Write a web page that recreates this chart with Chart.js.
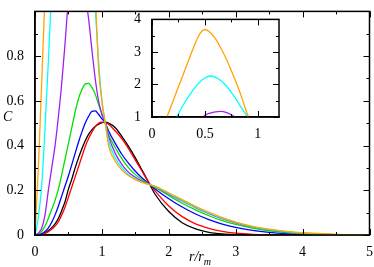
<!DOCTYPE html>
<html>
<head>
  <title>C vs r/rm</title>
  <script src="https://cdn.jsdelivr.net/npm/chart.js"></script>
  <style>
    body { margin: 0; background: #fff; }
    #wrap { position: relative; width: 374px; height: 267px; font-family: 'Liberation Serif', serif; }
    #mainChart { position: absolute; left: 0; top: 0; }
    #insetChart { position: absolute; left: 130px; top: 8px; }
    .lbl { position: absolute; font-size: 14px; font-style: italic; color: #000; white-space: nowrap; }
    .lbl sub { font-size: 10px; }
  </style>
</head>
<body>
  <div id="wrap">
    <canvas id="mainChart" width="374" height="267"></canvas>
    <canvas id="insetChart" width="155" height="130"></canvas>
    <div class="lbl" style="left:3px; top:109px;">C</div>
    <div class="lbl" style="left:189px; top:249px;">r/r<sub>m</sub></div>
  </div>

  <script>
    // r/r_m sample points shared by all curves
    const rValues = [0, 0.05, 0.1, 0.15, 0.2, 0.25, 0.3, 0.35, 0.4, 0.45, 0.5, 0.55, 0.6, 0.65, 0.7, 0.75, 0.8, 0.85, 0.9, 0.95,
                     1.0, 1.05, 1.1, 1.2, 1.3, 1.4, 1.5, 1.6, 1.7, 1.8, 2.0, 2.2, 2.4, 2.6, 2.8, 3.0, 3.25, 3.5, 3.75, 4.0, 4.5, 5.0];

    const blackC  = [0, 0, .003, .01, .02, .033, .05, .075, .11, .15, .205, .25, .3, .345, .385, .42, .45, .47, .485, .495,
                     .503, .505, .5, .48, .44, .395, .345, .29, .235, .18, .105, .055, .027, .012, .005, .002, 0, 0, 0, 0, 0, 0];
    const redC    = [0, 0, .002, .007, .015, .026, .04, .06, .09, .125, .17, .215, .26, .305, .35, .395, .43, .46, .485, .5,
                     .505, .503, .495, .465, .43, .385, .335, .285, .235, .195, .13, .082, .05, .03, .016, .008, .003, .001, 0, 0, 0, 0];
    const blueC   = [0, .001, .006, .016, .032, .057, .09, .13, .175, .22, .265, .315, .365, .415, .46, .5, .53, .553, .555, .54,
                     .52, .502, .465, .41, .36, .32, .285, .255, .23, .205, .162, .125, .094, .069, .049, .034, .021, .012, .006, .003, .001, 0];
    const greenC  = [0, .003, .015, .04, .075, .115, .155, .205, .27, .34, .41, .48, .55, .61, .65, .675, .678, .66, .63, .585,
                     .54, .502, .45, .39, .34, .3, .27, .247, .228, .212, .176, .142, .112, .086, .064, .047, .031, .019, .011, .006, .001, 0];
    const purpleC = [0, .008, .03, .09, .2, .3, .4, .53, .68, .86, 1.05, 1.12, 1.16, 1.17, 1.14, 1.07, .97, .83, .7, .6,
                     .54, .502, .44, .365, .315, .28, .258, .24, .228, .215, .183, .152, .122, .096, .073, .054, .036, .023, .014, .008, .002, 0];
    const cyanC   = [0, .08, .22, .48, .78, 1.1, 1.4, 1.65, 1.88, 2.07, 2.2, 2.26, 2.22, 2.12, 1.96, 1.76, 1.52, 1.26, 1.02, .78,
                     .6, .502, .42, .345, .3, .27, .25, .236, .227, .216, .185, .155, .125, .098, .075, .056, .037, .024, .015, .009, .002, 0];
    const orangeC = [0, .3, .68, 1.08, 1.5, 1.93, 2.35, 2.78, 3.2, 3.55, 3.69, 3.6, 3.4, 3.12, 2.8, 2.42, 2.02, 1.58, 1.1, .75,
                     .6, .502, .4, .33, .29, .265, .248, .235, .226, .217, .188, .158, .128, .101, .078, .058, .039, .026, .016, .01, .003, 0];

    const curves = [
      { values: blackC,  color: '#000000' },
      { values: redC,    color: '#ff0000' },
      { values: blueC,   color: '#0000ff' },
      { values: greenC,  color: '#00e000' },
      { values: purpleC, color: '#a020f0' },
      { values: cyanC,   color: '#00ffff' },
      { values: orangeC, color: '#ffa500' }
    ];

    function makeDatasets() {
      return curves.map((c, i) => ({
        data: rValues.map((r, k) => ({ x: r, y: c.values[k] })),
        borderColor: c.color,
        borderWidth: 1.3,
        pointRadius: 0,
        fill: false,
        cubicInterpolationMode: 'monotone',
        order: curves.length - i
      }));
    }

    // box + inward ticks, xmgrace style
    function framePlugin(xMajor, xMinor, yMajor, yMinor) {
      return {
        id: 'frame',
        afterDraw(chart) {
          const a = chart.chartArea, ctx = chart.ctx;
          const xs = chart.scales.x, ys = chart.scales.y;
          ctx.save();
          ctx.strokeStyle = '#000';
          ctx.lineWidth = 1;
          ctx.beginPath();
          const tick = (v, len, isX) => {
            if (isX) {
              const p = Math.round(xs.getPixelForValue(v)) + 0.5;
              ctx.moveTo(p, a.bottom); ctx.lineTo(p, a.bottom - len);
              ctx.moveTo(p, a.top); ctx.lineTo(p, a.top + len);
            } else {
              const p = Math.round(ys.getPixelForValue(v)) + 0.5;
              ctx.moveTo(a.left, p); ctx.lineTo(a.left + len, p);
              ctx.moveTo(a.right, p); ctx.lineTo(a.right - len, p);
            }
          };
          for (let v = xs.min; v <= xs.max + 1e-9; v += xMinor) {
            const major = Math.abs(v / xMajor - Math.round(v / xMajor)) < 1e-6;
            tick(v, major ? 6 : 3, true);
          }
          for (let v = ys.min; v <= ys.max + 1e-9; v += yMinor) {
            const major = Math.abs((v - ys.min) / yMajor - Math.round((v - ys.min) / yMajor)) < 1e-6;
            tick(v, major ? 6 : 3, false);
          }
          ctx.stroke();
          ctx.lineWidth = 1.5;
          ctx.strokeRect(a.left, a.top, a.right - a.left, a.bottom - a.top);
          ctx.restore();
        }
      };
    }

    const tickFont = { family: 'Liberation Serif', size: 14 };

    new Chart(document.getElementById('mainChart'), {
      type: 'line',
      data: { datasets: makeDatasets() },
      options: {
        responsive: false,
        animation: false,
        layout: { padding: { top: 1, right: 3 } },
        plugins: { legend: { display: false }, tooltip: { enabled: false } },
        scales: {
          x: {
            type: 'linear', min: 0, max: 5,
            grid: { display: false },
            border: { color: '#000', width: 1.5 },
            ticks: { stepSize: 1, color: '#000', font: tickFont, padding: 1, maxRotation: 0 },
            afterFit(s) { s.height = 32; }
          },
          y: {
            type: 'linear', min: 0, max: 1,
            grid: { display: false },
            border: { color: '#000', width: 1.5 },
            ticks: {
              stepSize: 0.2, color: '#000', font: tickFont, padding: 3,
              callback: v => {
                const n = Math.round(v * 10) / 10;
                if (n >= 1) return '';
                return n === 0 ? '0' : n.toFixed(1);
              }
            },
            afterFit(s) { s.width = 35; }
          }
        }
      },
      plugins: [framePlugin(1, 0.5, 0.2, 0.1)]
    });

    // inset: zoom on the tall peaks
    new Chart(document.getElementById('insetChart'), {
      type: 'line',
      data: { datasets: makeDatasets() },
      options: {
        responsive: false,
        animation: false,
        layout: { padding: { top: 9, right: 6 } },
        plugins: { legend: { display: false }, tooltip: { enabled: false } },
        scales: {
          x: {
            type: 'linear', min: 0, max: 1.2,
            grid: { display: false },
            border: { color: '#000', width: 1.5 },
            ticks: {
              stepSize: 0.5, color: '#000', font: tickFont, padding: 1, maxRotation: 0,
              autoSkip: false, includeBounds: false,
              callback: v => {
                const n = Math.round(v * 100) / 100;
                return n === 0 ? '0' : (n === 1 ? '1' : n.toFixed(1));
              }
            },
            afterFit(s) { s.height = 21; }
          },
          y: {
            type: 'linear', min: 1, max: 4,
            grid: { display: false },
            border: { color: '#000', width: 1.5 },
            ticks: { stepSize: 1, color: '#000', font: tickFont, padding: 3 },
            afterFit(s) { s.width = 22; }
          }
        }
      },
      plugins: [framePlugin(0.5, 0.25, 1, 0.5)]
    });
  </script>
</body>
</html>
